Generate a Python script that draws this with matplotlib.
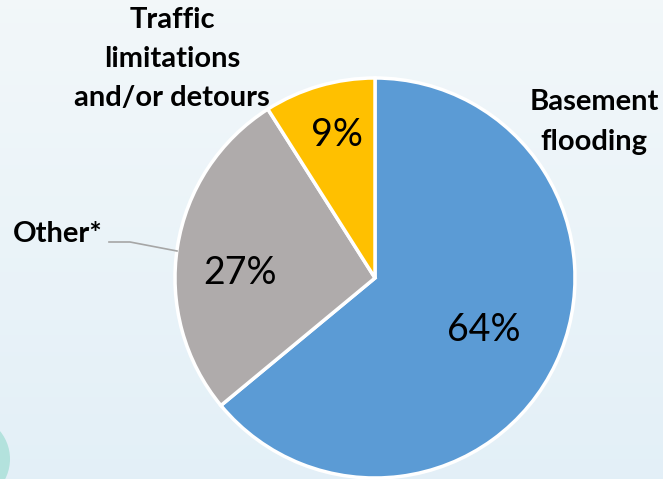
import matplotlib
matplotlib.use("Agg")
import matplotlib.pyplot as plt
import numpy as np
from matplotlib.patches import Circle

# Доли причин (по часовой стрелке от 12 часов)
categories = ["Basement\nflooding", "Other*", "Traffic\nlimitations\nand/or detours"]
shares = [64, 27, 9]
colors = ["#5B9BD5", "#AFABAB", "#FFC000"]

W, H = 663, 479
fig = plt.figure(figsize=(W / 100, H / 100), dpi=100)
ax = fig.add_axes([0, 0, 1, 1])
ax.set_xlim(0, W)
ax.set_ylim(0, H)
ax.set_aspect("equal")
ax.axis("off")

# Светлый голубоватый фон с лёгким вертикальным градиентом
grad = np.linspace(0, 1, 256).reshape(-1, 1)
top = np.array([0.95, 0.97, 0.98])
bot = np.array([0.89, 0.94, 0.97])
img = top + (bot - top) * grad[..., None]
ax.imshow(img, extent=[0, W, 0, H], origin="upper", aspect="auto", zorder=0)

# Бирюзовый кружок в левом нижнем углу
ax.add_patch(Circle((-34, 20), 44, color="#B3E2DD", zorder=1, lw=0))

cx, cy, r = 375, 201, 200
wedges, _, autotexts = ax.pie(
    shares, colors=colors, startangle=90, counterclock=False,
    center=(cx, cy), radius=r, autopct="%d%%", pctdistance=0.62,
    wedgeprops=dict(edgecolor="white", linewidth=2.5),
    textprops=dict(fontsize=27, family="Lato", color="black"),
)
for w in wedges:
    w.set_zorder(2)
for t in autotexts:
    t.set_zorder(3)
autotexts[0].set_position((484, H - 330))
autotexts[1].set_position((240, H - 273))
autotexts[2].set_position((337, H - 135))
ax.set_xlim(0, W)
ax.set_ylim(0, H)

lab = dict(fontsize=21, fontweight="bold", family="Lato", color="black",
           ha="center", va="center", linespacing=1.62, zorder=4)
ax.text(594, H - 122, categories[0], **lab)
ax.text(58, H - 234, categories[1], **lab)
ax.text(172, H - 59, categories[2], **lab)

# Выноска к «Other*»
ax.plot([109, 130, 177], [H - 242, H - 242, H - 251], color="#A6A6A6", lw=1.2, zorder=4)

fig.savefig("out.png", dpi=100)
